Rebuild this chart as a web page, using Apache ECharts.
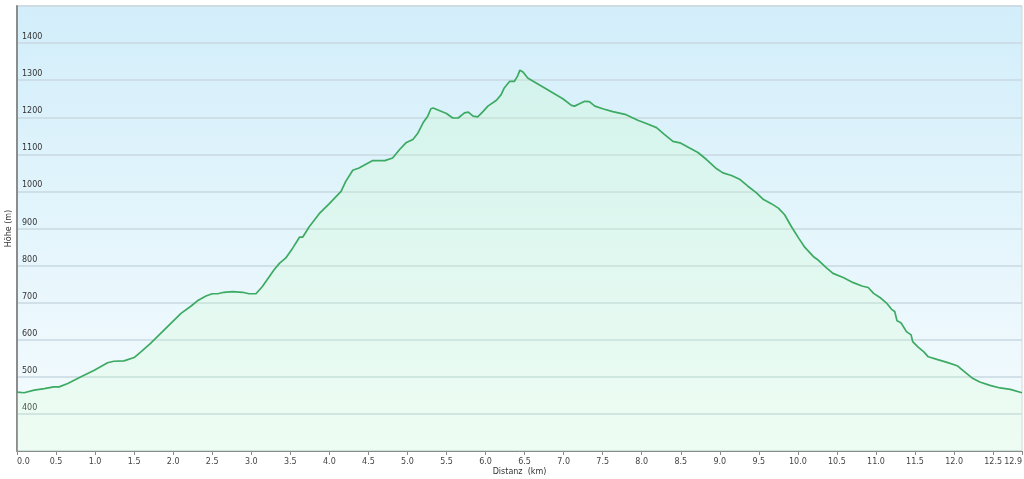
<!DOCTYPE html>
<html>
<head>
<meta charset="utf-8">
<script src="https://cdn.jsdelivr.net/npm/echarts@6/dist/echarts.min.js"></script>
<style>
html,body{margin:0;padding:0;background:#fff;}
#chart{width:1024px;height:479px;}
</style>
</head>
<body>
<div id="chart"></div>
<script>
const distanceKm = [0, 0.09, 0.22, 0.35, 0.47, 0.54, 0.65, 0.82, 0.99, 1.16, 1.24, 1.37, 1.50, 1.59, 1.71, 1.84, 1.97, 2.10, 2.23, 2.31, 2.42, 2.50, 2.57, 2.65, 2.76, 2.89, 2.97, 3.06, 3.14, 3.23, 3.29, 3.36, 3.44, 3.53, 3.62, 3.66, 3.74, 3.87, 4.00, 4.15, 4.21, 4.30, 4.38, 4.55, 4.71, 4.81, 4.90, 4.98, 5.07, 5.13, 5.20, 5.26, 5.30, 5.33, 5.43, 5.50, 5.58, 5.65, 5.73, 5.78, 5.84, 5.90, 5.97, 6.03, 6.14, 6.20, 6.24, 6.31, 6.37, 6.41, 6.44, 6.48, 6.54, 6.61, 6.73, 6.86, 6.99, 7.10, 7.14, 7.21, 7.27, 7.33, 7.40, 7.50, 7.63, 7.80, 7.95, 8.06, 8.19, 8.29, 8.40, 8.49, 8.59, 8.72, 8.83, 8.96, 9.04, 9.15, 9.26, 9.36, 9.47, 9.56, 9.66, 9.75, 9.83, 9.92, 10.01, 10.09, 10.20, 10.26, 10.37, 10.45, 10.58, 10.71, 10.82, 10.90, 10.97, 11.05, 11.14, 11.20, 11.24, 11.27, 11.32, 11.39, 11.45, 11.47, 11.54, 11.61, 11.67, 11.78, 11.91, 12.04, 12.12, 12.23, 12.33, 12.46, 12.59, 12.72, 12.87];
const elevationM = [459, 457, 464, 468, 473, 473, 482, 500, 518, 538, 542, 543, 552, 568, 590, 617, 644, 671, 691, 705, 718, 724, 724, 728, 730, 728, 724, 724, 743, 770, 788, 806, 820, 847, 877, 877, 904, 940, 967, 1000, 1027, 1057, 1063, 1083, 1083, 1090, 1113, 1131, 1140, 1156, 1185, 1203, 1223, 1225, 1216, 1210, 1198, 1198, 1212, 1214, 1203, 1201, 1216, 1230, 1246, 1261, 1279, 1297, 1297, 1311, 1327, 1322, 1306, 1297, 1282, 1266, 1250, 1232, 1230, 1237, 1243, 1242, 1230, 1223, 1215, 1207, 1192, 1183, 1172, 1154, 1135, 1131, 1120, 1105, 1086, 1061, 1050, 1043, 1032, 1014, 996, 978, 967, 955, 937, 904, 874, 849, 824, 815, 793, 779, 768, 754, 745, 741, 725, 714, 698, 682, 676, 651, 646, 622, 613, 595, 580, 568, 554, 547, 539, 530, 516, 497, 486, 477, 470, 466, 457];
const xAxisTitle = 'Distanz  (km)';
const yAxisTitle = 'Höhe (m)';

const chart = echarts.init(document.getElementById('chart'), null, {renderer: 'canvas'});
const points = distanceKm.map((d, i) => [d, elevationM[i]]);
const font = 'DejaVu Sans, Verdana, sans-serif';

chart.setOption({
  animation: false,
  grid: {
    left: 17, right: 2, top: 6, bottom: 28,
    outerBoundsMode: 'none',
    containLabel: false,
    show: true,
    borderColor: '#d6d6d6',
    borderWidth: 1,
    backgroundColor: new echarts.graphic.LinearGradient(0, 0, 0, 1, [
      {offset: 0, color: '#d2eefa'},
      {offset: 1, color: '#f6fcfe'}
    ])
  },
  xAxis: {
    type: 'value',
    min: 0,
    max: 12.87,
    interval: 0.5,
    name: xAxisTitle,
    nameLocation: 'middle',
    nameGap: 17,
    nameMoveOverlap: false,
    nameTextStyle: {fontFamily: font, fontSize: 8, color: '#333'},
    axisLine: {show: true, lineStyle: {color: '#8a8a8a', width: 1}},
    axisTick: {show: true, length: 4, lineStyle: {color: '#8a8a8a'}},
    axisLabel: {
      fontFamily: font, fontSize: 8, color: '#444', margin: 7,
      showMaxLabel: true, showMinLabel: true,
      alignMinLabel: 'left', alignMaxLabel: 'right',
      formatter: v => v.toFixed(1)
    },
    splitLine: {show: false}
  },
  yAxis: {
    type: 'value',
    min: 300,
    max: 1500,
    interval: 100,
    name: yAxisTitle,
    nameLocation: 'middle',
    nameGap: 4,
    nameMoveOverlap: false,
    nameTextStyle: {fontFamily: font, fontSize: 8, color: '#333'},
    axisLine: {show: true, lineStyle: {color: '#8c8c8c', width: 2}},
    axisTick: {show: false},
    axisLabel: {
      inside: true, margin: 5, fontFamily: font, fontSize: 8, color: '#333',
      verticalAlign: 'bottom', padding: [0, 0, 2, 0],
      showMinLabel: false, showMaxLabel: false,
      formatter: v => String(v)
    },
    splitLine: {show: true, lineStyle: {color: '#c8d9e0', width: 1.5}}
  },
  series: [{
    type: 'line',
    data: points,
    symbol: 'none',
    smooth: false,
    lineStyle: {color: '#3caa62', width: 1.7},
    areaStyle: {
      opacity: 1,
      color: new echarts.graphic.LinearGradient(0, 6, 0, 451, [
        {offset: 0, color: 'rgba(200,255,190,0.25)'},
        {offset: 1, color: 'rgba(200,255,190,0.17)'}
      ], true)
    }
  }]
});
</script>
</body>
</html>
